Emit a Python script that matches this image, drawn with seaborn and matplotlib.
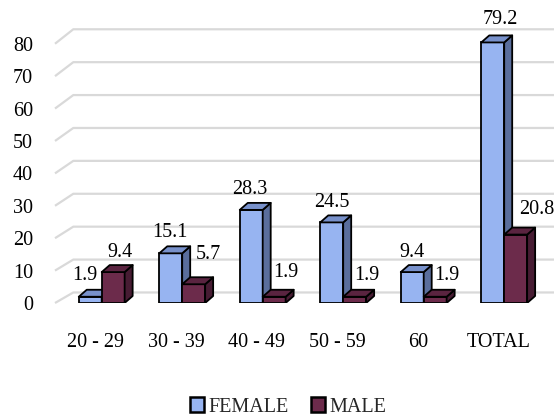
import matplotlib
matplotlib.use("Agg")
import matplotlib.pyplot as plt
import pandas as pd
import seaborn as sns
from matplotlib.patches import Polygon, Patch
from matplotlib.transforms import ScaledTranslation

# ---- data ----
categories = ["20 - 29", "30 - 39", "40 - 49", "50 - 59", "60", "TOTAL"]
female = [1.9, 15.1, 28.3, 24.5, 9.4, 79.2]
male = [9.4, 5.7, 1.9, 1.9, 1.9, 20.8]
series = ["FEMALE", "MALE"]
y_ticks = [0, 10, 20, 30, 40, 50, 60, 70, 80]

df = pd.DataFrame({
    "group": categories * 2,
    "sex": [series[0]] * len(categories) + [series[1]] * len(categories),
    "pct": female + male,
})

# ---- styling ----
front_colors = ["#97B4F1", "#6C2B4B"]
side_colors = ["#5A6E9C", "#471C33"]
top_colors = ["#7891CB", "#5A2440"]
grid_color = "#D9D9D9"
FS = 14.5

# label offsets in pixels (dx, dy of glyph centre above the front top edge)
label_offsets = [
    [(-5, 24), (-1, 23), (-1, 23), (0, 22), (0, 22), (8, 25)],
    [(7, 22), (15, 32), (12, 27), (12, 24), (12, 24), (21, 28)],
]

sns.set_theme(style="white")
plt.rcParams["font.family"] = ["Liberation Serif", "DejaVu Serif"]

W, H = 554, 416
fig = plt.figure(figsize=(W / 100, H / 100), dpi=100)
ax = fig.add_axes([55 / W, 113 / H, (W - 55) / W, (H - 113) / H])

sns.barplot(data=df, x="group", y="pct", hue="sex", palette=front_colors,
            width=0.57, saturation=1, edgecolor="black", linewidth=1.3,
            errorbar=None, legend=False, ax=ax)

# pixel -> data scales
px_per_cat = 80.5
px_per_unit = 3.29
x_left = (55 - 101.7) / px_per_cat
x_right = (W - 101.7) / px_per_cat
ax.set_xlim(x_left, x_right)
ax.set_ylim(0, (H - 113) / px_per_unit)

# floor / back wall gridlines (front diagonal + back horizontal)
x_back = (73.3 - 101.7) / px_per_cat
front_scale = 0.985
back_shift = 3.2
for v in y_ticks:
    yf = front_scale * v
    yb = v + back_shift
    ax.plot([x_left, x_back, x_right], [yf, yb, yb], color=grid_color,
            lw=1.6, zorder=0.5, solid_capstyle="butt", clip_on=False)

# 3D depth of each column
ddx = 8 / px_per_cat
ddy = 7 / px_per_unit

for k, cont in enumerate(ax.containers):
    for j, p in enumerate(cont.patches):
        x0, w, h = p.get_x(), p.get_width(), p.get_height()
        p.set_zorder(2 + k)
        side = Polygon([(x0 + w, 0), (x0 + w + ddx, ddy), (x0 + w + ddx, h + ddy), (x0 + w, h)],
                       closed=True, facecolor=side_colors[k], edgecolor="black",
                       lw=1.3, zorder=2 + k, joinstyle="round")
        top = Polygon([(x0, h), (x0 + w, h), (x0 + w + ddx, h + ddy), (x0 + ddx, h + ddy)],
                      closed=True, facecolor=top_colors[k], edgecolor="black",
                      lw=1.3, zorder=2 + k, joinstyle="round")
        ax.add_patch(side)
        ax.add_patch(top)
        dx, dy = label_offsets[k][j]
        ax.annotate(f"{h:.1f}", xy=(x0 + w / 2, h), xytext=(dx, dy - 7),
                    textcoords="offset pixels", ha="center", va="baseline",
                    fontsize=FS, color="black", zorder=6)

# axes decoration
for s in ax.spines.values():
    s.set_visible(False)
ax.grid(False)
ax.set_xlabel("")
ax.set_ylabel("")
ax.set_yticks([front_scale * v for v in y_ticks])
ax.set_yticklabels([str(v) for v in y_ticks])
ax.set_xticks(range(len(categories)))
ax.set_xticklabels(categories)
ax.tick_params(axis="y", length=0, pad=15.8, labelsize=FS, colors="black")
ax.tick_params(axis="x", length=0, pad=21.5, labelsize=FS, colors="black")
shift = ScaledTranslation(-6 / 100, 0, fig.dpi_scale_trans)
for lab in ax.get_xticklabels():
    lab.set_transform(lab.get_transform() + shift)

handles = [Patch(facecolor=front_colors[i], edgecolor="black", linewidth=1.8, label=series[i])
           for i in range(2)]
fig.legend(handles=handles, loc="center", bbox_to_anchor=(288 / W, (H - 407) / H),
           ncol=2, frameon=False, fontsize=FS, handlelength=0.7, handleheight=0.7,
           handletextpad=0.22, columnspacing=1.08, borderpad=0)

fig.savefig("out.png", dpi=100, facecolor="white")
